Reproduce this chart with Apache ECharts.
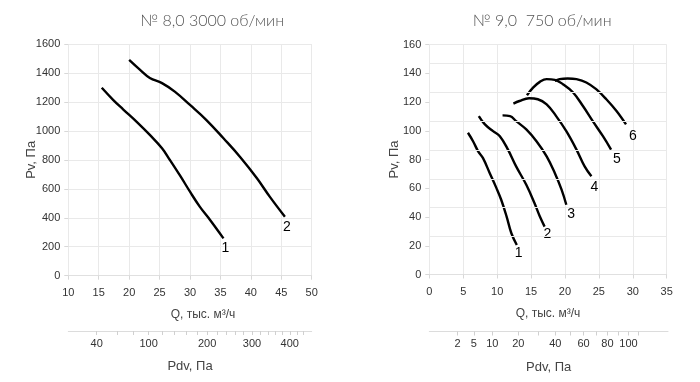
<!DOCTYPE html>
<html><head><meta charset="utf-8">
<script src="https://cdn.jsdelivr.net/npm/echarts@6/dist/echarts.min.js"></script>
<style>html,body{margin:0;padding:0;background:#fff}#c{width:700px;height:382px}</style>
</head><body><div id="c"></div>
<script>
// ---- titles / axis names ----
const leftTitle = '№ 8,0 3000 об/мин';
const rightTitle = '№ 9,0  750 об/мин';
const qName = 'Q, тыс. м³/ч';
const pvName = 'Pv, Па';
const pdvName = 'Pdv, Па';

// ---- left chart (№ 8,0) ----
const L1_Q = [15.5, 17.4, 19.0, 21.2, 23.4, 25.4, 26.7, 28.4, 30.0, 31.6, 33.3, 35.5];
const L1_P = [1298, 1213, 1149, 1064, 972, 880, 799, 689, 580, 477, 385, 258];
const L2_Q = [20.0, 21.8, 23.4, 25.4, 27.5, 30.0, 32.7, 35.5, 38.2, 41.0, 43.1, 45.6];
const L2_P = [1490, 1421, 1365, 1330, 1271, 1179, 1075, 949, 822, 673, 546, 407];
const leftPdvLabels = [40, 100, 200, 300, 400];
const leftPdvTicks = [40, 60, 80, 100, 120, 140, 160, 180, 200, 220, 240, 260, 280, 300, 320, 340, 360, 380, 400, 420, 440];
const leftK = 2.32; // Q = k * sqrt(Pdv)

// ---- right chart (№ 9,0) ----
const R1_Q = [5.7, 6.45, 7.2, 7.9, 8.9, 9.9, 10.6, 11.4, 12.1, 12.9];
const R1_P = [98.6, 92.7, 85.7, 81.1, 70.6, 60.1, 52, 40.3, 28.7, 20.5];
const R2_Q = [7.3, 8.2, 9.4, 10.4, 11.6, 12.8, 14.3, 15.5, 16.3, 17.0];
const R2_P = [110.2, 104.4, 99.7, 96.2, 86.9, 75.2, 62.4, 49.7, 40.3, 33.3];
const R3_Q = [10.8, 11.9, 12.8, 14.3, 15.8, 17.3, 18.5, 19.5, 20.2];
const R3_P = [110.7, 110.2, 106.7, 100.9, 92.7, 82.2, 70.6, 59, 48.5];
const R4_Q = [12.4, 13.3, 14.7, 16.0, 17.3, 18.7, 20.2, 21.7, 22.9, 23.9];
const R4_P = [118.9, 120.7, 122.6, 121.9, 118.4, 110.2, 99.7, 86.9, 75.2, 68.3];
const R5_Q = [14.4, 15.3, 16.3, 17.3, 18.5, 19.7, 21.2, 22.65, 24.1, 25.6, 26.8];
const R5_P = [124.7, 130, 134, 135.9, 135.4, 132.4, 126.6, 117.2, 106.7, 96.2, 86.9];
const R6_Q = [18.5, 19.2, 20.4, 21.7, 23.15, 24.6, 26.1, 27.6, 29.0];
const R6_P = [134.7, 135.9, 136.4, 135.9, 133.6, 128.9, 121.9, 113.7, 104.4];
const rightGridValues = [26.5, 46.5, 66.5, 86.5, 106.5, 126.5, 146.8, 160];
const rightPdvLabels = [2, 5, 10, 20, 40, 60, 80, 100];
const rightPdvTicks = [2, 5, 10, 20, 30, 40, 50, 60, 70, 80, 90, 100, 110];
const rightK = 2.92;

const zip = (a, b) => a.map((v, i) => [v, b[i]]);

const FONT = 'Liberation Sans, Arial, sans-serif';
const GRIDC = '#e9e9e9';
const LABC = '#333';

function mainX(idx, min, max, interval, namePad) {
  return {
    gridIndex: idx, type: 'value', min: min, max: max, interval: interval,
    name: qName, nameLocation: 'middle', nameGap: 33, nameMoveOverlap: false,
    nameTextStyle: { fontFamily: FONT, fontSize: 12, color: '#444', padding: [0, 0, 0, namePad] },
    axisLine: { show: true, lineStyle: { color: '#e0e0e0' } },
    axisTick: { show: true, length: 4, lineStyle: { color: '#d8d8d8' } },
    axisLabel: { margin: 12, fontFamily: FONT, fontSize: 11, color: LABC },
    splitLine: { show: true, lineStyle: { color: GRIDC, width: 1 } }
  };
}
function mainY(idx, min, max, interval, split, gap) {
  return {
    gridIndex: idx, type: 'value', min: min, max: max, interval: interval,
    name: pvName, nameLocation: 'middle', nameGap: gap, nameRotate: 90, nameMoveOverlap: false,
    nameTextStyle: { fontFamily: FONT, fontSize: 13, color: '#444' },
    axisLine: { show: false },
    axisTick: { show: true, length: 4, lineStyle: { color: '#d8d8d8' } },
    axisLabel: { margin: 8, fontFamily: FONT, fontSize: 11, color: LABC, formatter: v => String(v) },
    splitLine: { show: split, lineStyle: { color: GRIDC, width: 1 } }
  };
}
function pdvX(idx, min, max, k, labels, ticks) {
  const toQ = p => k * Math.sqrt(p);
  return {
    gridIndex: idx, type: 'value', min: min, max: max, position: 'bottom',
    name: pdvName, nameLocation: 'middle', nameGap: 29, nameMoveOverlap: false,
    nameTextStyle: { fontFamily: FONT, fontSize: 13, color: '#444' },
    axisLine: { show: true, lineStyle: { color: '#dcdcdc' } },
    axisTick: { show: true, length: 4, customValues: ticks.map(toQ), lineStyle: { color: '#d0d0d0' } },
    axisLabel: { margin: 7, fontFamily: FONT, fontSize: 11, color: LABC,
      customValues: labels.map(toQ),
      formatter: v => String(Math.round(v * v / (k * k))) },
    splitLine: { show: false }
  };
}
function hiddenY(idx) {
  return { gridIndex: idx, type: 'value', min: 0, max: 1, show: false, splitLine: { show: false } };
}
function curve(name, data, xi, yi, off) {
  return {
    type: 'line', name: name, data: data, xAxisIndex: xi, yAxisIndex: yi,
    smooth: 0.4, showSymbol: false, symbol: 'none', silent: true,
    lineStyle: { color: '#000', width: 2.4 },
    endLabel: { show: true, formatter: name, offset: off, fontFamily: FONT, fontSize: 14, color: '#000' }
  };
}

const option = {
  animation: false,
  backgroundColor: '#fff',
  title: [
    { text: leftTitle, left: 207, top: 8, textAlign: 'center',
      textStyle: { fontFamily: 'Lato, sans-serif', fontWeight: 300, fontSize: 16, color: '#555' } },
    { text: rightTitle, left: 537, top: 8, textAlign: 'center',
      textStyle: { fontFamily: 'Lato, sans-serif', fontWeight: 300, fontSize: 16, color: '#555' } }
  ],
  grid: [
    { left: 68.3, right: 388.3, top: 44, bottom: 106.3 },
    { left: 429.3, right: 33.3, top: 44.5, bottom: 107.5 },
    { left: 68.3, right: 388.3, top: 330, height: 1 },
    { left: 429.3, right: 32, top: 330.5, height: 1 }
  ],
  xAxis: [
    mainX(0, 10, 50, 5, 26),
    mainX(1, 0, 35, 5, 0),
    pdvX(2, 10, 50, leftK, leftPdvLabels, leftPdvTicks),
    pdvX(3, 0, 35, rightK, rightPdvLabels, rightPdvTicks)
  ],
  yAxis: [
    mainY(0, 0, 1600, 200, true, 30),
    mainY(1, 0, 160, 20, false, 28),
    hiddenY(2),
    hiddenY(3)
  ],
  series: [
    curve('1', zip(L1_Q, L1_P), 0, 0, [-10, 10]),
    curve('2', zip(L2_Q, L2_P), 0, 0, [-10, 10]),
    Object.assign(curve('1', zip(R1_Q, R1_P), 1, 1, [-10, 8]), {
      markLine: { silent: true, symbol: 'none', label: { show: false },
        lineStyle: { color: GRIDC, type: 'solid', width: 1 },
        data: rightGridValues.map(v => ({ yAxis: v })) }
    }),
    curve('2', zip(R2_Q, R2_P), 1, 1, [-9, 8]),
    curve('3', zip(R3_Q, R3_P), 1, 1, [-7, 9]),
    curve('4', zip(R4_Q, R4_P), 1, 1, [-9, 11]),
    curve('5', zip(R5_Q, R5_P), 1, 1, [-6, 10]),
    curve('6', zip(R6_Q, R6_P), 1, 1, [-5, 12])
  ]
};
const chart = echarts.init(document.getElementById('c'), null, { renderer: 'canvas' });
chart.setOption(option);
</script></body></html>
